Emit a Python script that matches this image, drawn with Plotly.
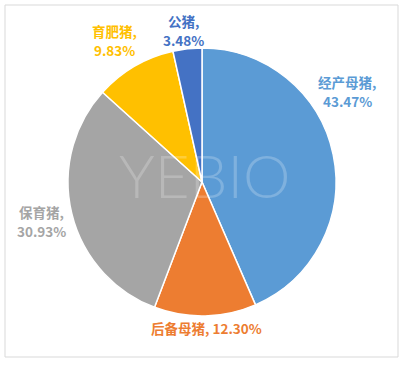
import plotly.graph_objects as go

categories = ["经产母猪", "后备母猪", "保育猪", "育肥猪", "公猪"]
values = [43.47, 12.30, 30.93, 9.83, 3.48]
colors = ["#5B9BD5", "#ED7D31", "#A5A5A5", "#FFC000", "#4472C4"]

W, H = 405, 365
cx, cy, r = 202, 182, 134

fig = go.Figure(go.Pie(
    labels=categories, values=values, sort=False, direction="clockwise",
    rotation=0, textinfo="none", hoverinfo="label+percent",
    marker=dict(colors=colors, line=dict(color="white", width=1.5)),
    domain=dict(x=[(cx - r) / W, (cx + r) / W], y=[(H - cy - r) / H, (H - cy + r) / H]),
    showlegend=False,
))

# label positions in pixels (layout only): x, y of first line, one-line flag
label_pos = {
    "经产母猪": (347, 82, False),
    "后备母猪": (207, 328, True),
    "保育猪": (41, 212, False),
    "育肥猪": (114, 31, False),
    "公猪": (183, 21, False),
}
LINE = 19
font_family = "Noto Sans CJK SC, Noto Sans, sans-serif"
for cat, val, col in zip(categories, values, colors):
    x, y, oneline = label_pos[cat]
    if oneline:
        lines = [f"{cat}, {val:.2f}%"]
    else:
        lines = [f"{cat},", f"{val:.2f}%"]
    for i, t in enumerate(lines):
        fig.add_annotation(
            x=x / W, y=1 - (y + i * LINE) / H, xref="paper", yref="paper",
            text=f"<b>{t}</b>", showarrow=False,
            font=dict(family=font_family, size=13.5, color=col),
            xanchor="center", yanchor="middle",
        )

# watermark
fig.add_annotation(
    x=205 / W, y=1 - 175 / H, xref="paper", yref="paper",
    text="YEBIO", showarrow=False,
    font=dict(family="Lato Light, Lato, DejaVu Sans, sans-serif", size=60,
              color="rgba(255,255,255,0.22)"),
    xanchor="center", yanchor="middle",
)

fig.add_shape(type="rect", xref="paper", yref="paper",
              x0=5 / W, x1=398 / W, y0=1 - 357 / H, y1=1 - 5 / H,
              line=dict(color="#D9D9D9", width=1), fillcolor="rgba(0,0,0,0)")

fig.update_layout(width=W, height=H, margin=dict(l=0, r=0, t=0, b=0),
                  paper_bgcolor="white", plot_bgcolor="white")
fig.write_html("out.html", config={"displayModeBar": False},
               post_script="document.body.style.margin='0';document.body.style.padding='0';")
